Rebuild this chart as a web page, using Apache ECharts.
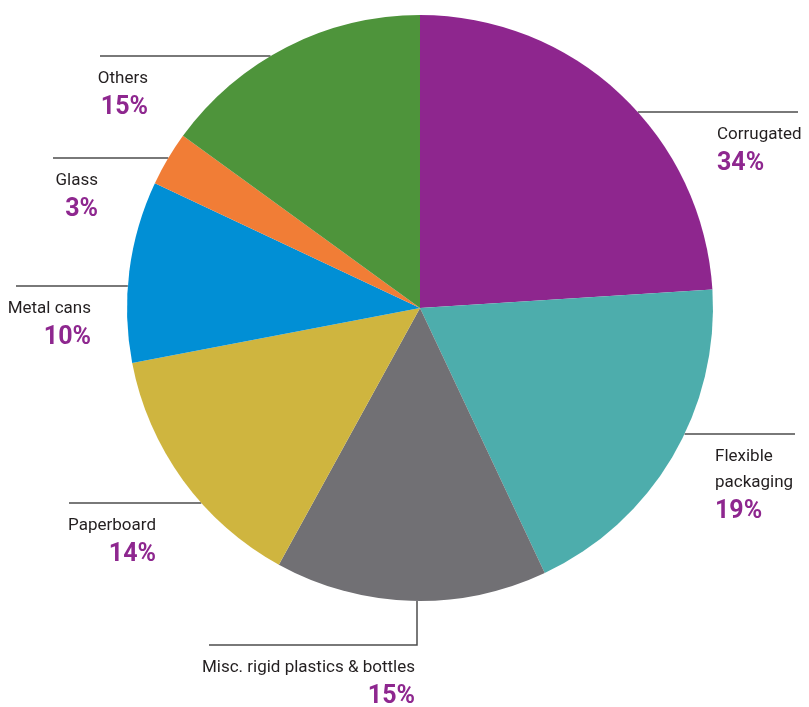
<!DOCTYPE html>
<html>
<head>
<meta charset="utf-8">
<script src="https://cdn.jsdelivr.net/npm/echarts@6/dist/echarts.min.js"></script>
<style>
  html, body { margin: 0; padding: 0; background: #ffffff; }
  #chart { width: 809px; height: 707px; }
</style>
</head>
<body>
<div id="chart"></div>
<script>
// categories, clockwise from 12 o'clock
const categories = ['Corrugated', 'Flexible\npackaging', 'Misc. rigid plastics & bottles', 'Paperboard', 'Metal cans', 'Glass', 'Others']
// slice sizes as drawn in the picture
const sliceValues = [24, 19, 15, 14, 10, 3, 15]
// percent labels as printed
const percentLabels = ['34%', '19%', '15%', '14%', '10%', '3%', '15%']
const colors = ['#8e268e', '#4dadac', '#717074', '#cfb53f', '#018fd5', '#f17d36', '#4e943b']

// label placement: leader line y, far end x, text anchor x, side
const labelPos = [
  { lineY: 112, endX: 798, textX: 717, side: 'right' },
  { lineY: 434, endX: 795, textX: 715, side: 'right' },
  { lineY: 645, endX: 209, textX: 415, side: 'bottom', lineX: 417 },
  { lineY: 503, endX: 69, textX: 156, side: 'left' },
  { lineY: 286, endX: 16, textX: 91, side: 'left' },
  { lineY: 158, endX: 53, textX: 98, side: 'left' },
  { lineY: 56, endX: 100, textX: 148, side: 'left' }
]

const cx = 420, cy = 308, R = 293

const chart = echarts.init(document.getElementById('chart'))

const labelFont = "Roboto, 'Liberation Sans', sans-serif"

const data = categories.map((name, i) => {
  const align = labelPos[i].side === 'right' ? 'left' : 'right'
  return {
    name: name,
    value: sliceValues[i],
    itemStyle: { color: colors[i] },
    label: {
      align: align,
      rich: {
        n: { fontFamily: labelFont, fontSize: 17, color: '#231f20', lineHeight: 26, align: align },
        p: { fontFamily: labelFont, fontSize: 25, fontWeight: 'bold', color: '#8e278f', lineHeight: 32, align: align }
      }
    }
  }
})

const edgeX = (y, dir) => cx + dir * Math.sqrt(Math.max(0, R * R - (y - cy) * (y - cy)))

chart.setOption({
  backgroundColor: '#ffffff',
  animation: false,
  series: [{
    type: 'pie',
    center: [cx, cy],
    radius: [0, R],
    startAngle: 90,
    clockwise: true,
    avoidLabelOverlap: false,
    data: data,
    itemStyle: { borderWidth: 0 },
    label: {
      show: true,
      position: 'outside',
      formatter: (p) => p.name.split('\n').map(s => '{n|' + s + '}').join('\n') + '\n{p|' + percentLabels[p.dataIndex] + '}'
    },
    labelLine: {
      show: true,
      lineStyle: { color: '#4d4d4d', width: 1.5 }
    },
    labelLayout: (params) => {
      const lp = labelPos[params.dataIndex]
      let pts
      if (lp.side === 'bottom') {
        const y0 = cy + Math.sqrt(R * R - (lp.lineX - cx) * (lp.lineX - cx))
        pts = [[lp.lineX, y0], [lp.lineX, lp.lineY], [lp.endX, lp.lineY]]
      } else {
        const dir = lp.side === 'right' ? 1 : -1
        const x0 = edgeX(lp.lineY, dir)
        pts = [[x0, lp.lineY], [(x0 + lp.endX) / 2, lp.lineY], [lp.endX, lp.lineY]]
      }
      return {
        x: lp.textX,
        y: lp.lineY + 10,
        align: lp.side === 'right' ? 'left' : 'right',
        verticalAlign: 'top',
        labelLinePoints: pts
      }
    }
  }]
})
</script>
</body>
</html>
